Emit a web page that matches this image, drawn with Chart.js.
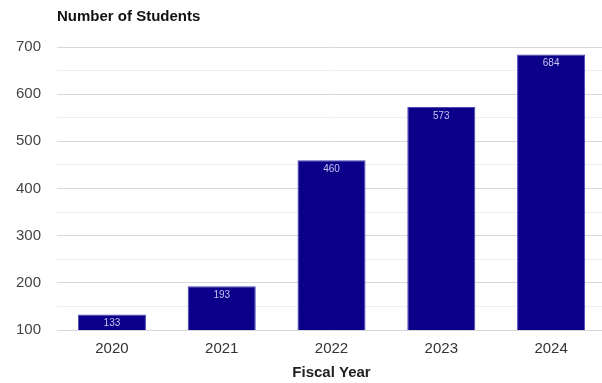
<!DOCTYPE html>
<html>
<head>
<meta charset="utf-8">
<script src="https://cdn.jsdelivr.net/npm/chart.js@4.4.0/dist/chart.umd.min.js"></script>
<style>
  html, body { margin: 0; padding: 0; background: #fff; overflow: hidden; }
  canvas { display: block; }
</style>
</head>
<body>
<canvas id="students" width="608" height="383"></canvas>
<script>
const years = ['2020', '2021', '2022', '2023', '2024'];
const students = [133, 193, 460, 573, 684];

const barLabels = {
  id: 'barLabels',
  afterDatasetsDraw(chart) {
    const ctx = chart.ctx;
    const meta = chart.getDatasetMeta(0);
    ctx.save();
    ctx.font = '10px "Liberation Sans", Arial, sans-serif';
    ctx.fillStyle = '#c4c4ee';
    ctx.textAlign = 'center';
    ctx.textBaseline = 'top';
    meta.data.forEach(function (bar, i) {
      ctx.fillText(students[i], bar.x, bar.y + 4);
    });
    ctx.restore();
  }
};

const ctx = document.getElementById('students').getContext('2d');
new Chart(ctx, {
  type: 'bar',
  data: {
    labels: years,
    datasets: [{
      data: students,
      backgroundColor: '#0a008a',
      borderColor: '#4b46b4',
      borderWidth: 1,
      barPercentage: 0.62,
      categoryPercentage: 1
    }]
  },
  options: {
    responsive: false,
    animation: false,
    layout: { padding: { top: 0, left: 0, right: 2, bottom: 1 } },
    plugins: {
      legend: { display: false },
      tooltip: { enabled: false },
      title: {
        display: true,
        text: 'Number of Students',
        align: 'start',
        fullSize: false,
        color: '#111',
        font: { family: '"Liberation Sans", Arial, sans-serif', size: 15, weight: 'bold' },
        padding: { top: 8, bottom: 21 }
      }
    },
    scales: {
      x: {
        grid: { display: false },
        border: { display: false },
        ticks: {
          color: '#333',
          padding: 2,
          font: { family: '"Liberation Sans", Arial, sans-serif', size: 15 }
        },
        title: {
          display: true,
          text: 'Fiscal Year',
          color: '#222',
          padding: { top: 4, bottom: 0 },
          font: { family: '"Liberation Sans", Arial, sans-serif', size: 15, weight: 'bold' }
        }
      },
      y: {
        min: 100,
        max: 700,
        border: { display: false },
        grid: {
          drawTicks: false,
          lineWidth: 1,
          color: function (c) {
            return c.tick && c.tick.value % 100 === 0 ? '#d8d8d8' : '#efefef';
          }
        },
        ticks: {
          stepSize: 50,
          padding: 16,
          color: '#444',
          font: { family: '"Liberation Sans", Arial, sans-serif', size: 15 },
          callback: function (v) { return v % 100 === 0 ? v : ''; }
        }
      }
    }
  },
  plugins: [barLabels]
});
</script>
</body>
</html>
